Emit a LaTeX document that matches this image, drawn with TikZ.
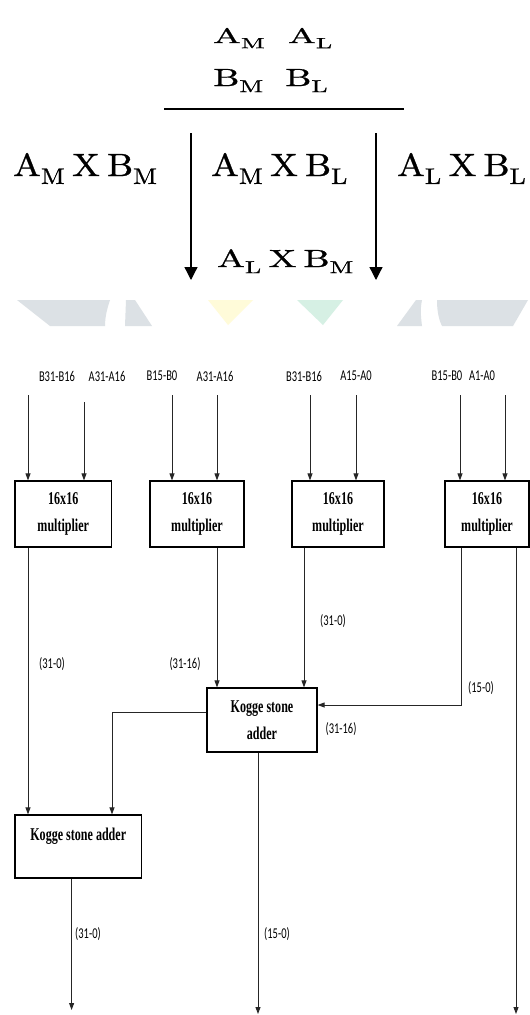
\documentclass[tikz,border=0pt]{standalone}
\usepackage{fontspec}
\usetikzlibrary{arrows.meta}
\newfontfamily\labf{Carlito}
\newfontfamily\boxf{Liberation Serif}
\newfontfamily\heavy[FakeBold=0.8]{lmroman10-regular.otf}
\newcommand\nx[1]{\scalebox{0.7}[1]{#1}}
\newcommand\bx[1]{\scalebox{0.67}[1]{#1}}
\newcommand\sbs[1]{\textsubscript{#1}}
\newcommand\gp{\hspace{7pt}}
\definecolor{wmgray}{HTML}{DCE1E5}
\definecolor{wmyel}{HTML}{FFFBD9}
\definecolor{wmgrn}{HTML}{D6F0E4}
\begin{document}
\begin{tikzpicture}[x=1pt,y=-1pt,
  lbl/.style={font=\labf\fontsize{15}{18}\selectfont, inner sep=0},
  mul/.style={draw=black, line width=1.2pt, font=\boxf\bfseries\fontsize{18}{27}\selectfont, align=center, inner sep=0},
  wire/.style={line width=0.9pt, draw=black!85},
  arr/.style={wire, -{Triangle[width=5pt,length=7pt]}},
  bigarr/.style={line width=1.3pt, -{Triangle[width=13pt,length=13pt]}},
  mth/.style={inner sep=0, anchor=base west, font=\heavy\fontsize{37}{42}\selectfont}]
\useasboundingbox (0,0) rectangle (530,1015);
\fill[white] (0,0) rectangle (530,1015);
% watermark shapes
\fill[wmgray] (17,300) -- (110,300) .. controls (107,309) and (105,317) .. (105,326) -- (50,326) -- cycle;
\fill[wmgray] (126,300) -- (135,300) -- (152,326) -- (125,326) -- cycle;
\fill[wmyel] (208,300) -- (253,300) -- (228,325) -- cycle;
\fill[wmgrn] (297,300) -- (343,300) -- (323,325) -- cycle;
\fill[wmgray] (416,300) -- (422,300) .. controls (420,309) and (421,318) .. (422,326) -- (397,326) -- cycle;
\fill[wmgray] (437,300) -- (528,300) -- (513,326) -- (442,326) .. controls (438,318) and (437,308) .. cycle;
% top math part
\node[mth] (am) at (213,43) {\scalebox{1}[0.57]{A\sbs{M}}};
\node[mth] (al) at (288,43) {\scalebox{1}[0.57]{A\sbs{L}}};
\node[mth] (bm) at (213,86) {\scalebox{1}[0.67]{B\sbs{M}}};
\node[mth] (bl) at (285,86) {\scalebox{1}[0.67]{B\sbs{L}}};
\coordinate (r1) at (164,109);
\coordinate (r2) at (404,109);
\draw[line width=1.5pt] (r1) -- (r2);
\coordinate (a1) at (191,133);
\coordinate (a2) at (191,280);
\coordinate (a3) at (376,133);
\coordinate (a4) at (376,280);
\draw[bigarr] (a1) -- (a2);
\draw[bigarr] (a3) -- (a4);
\node[mth] (p1) at (13,176) {\scalebox{1}[0.87]{A\sbs{M}\gp X\gp B\sbs{M}}};
\node[mth] (p2) at (211,176) {\scalebox{1}[0.87]{A\sbs{M}\gp X\gp B\sbs{L}}};
\node[mth] (p3) at (397,176) {\scalebox{1}[0.87]{A\sbs{L}\gp X\gp B\sbs{L}}};
\node[mth] (p4) at (217,267) {\scalebox{1}[0.67]{A\sbs{L}\gp X\gp B\sbs{M}}};
% input labels
\node[lbl] (t1) at (57,376) {\nx{B31-B16}};
\node[lbl] (t2) at (107,376) {\nx{A31-A16}};
\node[lbl] (t3) at (162,376) {\nx{B15-B0}};
\node[lbl] (t4) at (215,376) {\nx{A31-A16}};
\node[lbl] (t5) at (304,376) {\nx{B31-B16}};
\node[lbl] (t6) at (356,376) {\nx{A15-A0}};
\node[lbl] (t7) at (447,376) {\nx{B15-B0}};
\node[lbl] (t8) at (482,376) {\nx{A1-A0}};
% boxes
\node[mul, minimum width=96.5pt, minimum height=66pt] (m1) at (63.25,514) {\bx{16x16}\\\bx{multiplier}};
\node[mul, minimum width=94pt, minimum height=66pt] (m2) at (197,514) {\bx{16x16}\\\bx{multiplier}};
\node[mul, minimum width=92pt, minimum height=66pt] (m3) at (338,514) {\bx{16x16}\\\bx{multiplier}};
\node[mul, minimum width=84pt, minimum height=66pt] (m4) at (487,514) {\bx{16x16}\\\bx{multiplier}};
\node[mul, minimum width=110pt, minimum height=64pt] (k1) at (262,720) {\bx{Kogge stone}\\\bx{adder}};
\node[mul, minimum width=126.5pt, minimum height=63pt] (k2) at (78.25,846.5) {\bx{Kogge stone adder}\\[-10pt]\strut};
% inputs
\coordinate (i1) at (28,395);
\coordinate (i2) at (84,402);
\coordinate (i3) at (172,395);
\coordinate (i4) at (217,395);
\coordinate (i5) at (310,395);
\coordinate (i6) at (356,395);
\coordinate (i7) at (460,395);
\coordinate (i8) at (505,395);
\draw[arr] (i1) -- (i1 |- m1.north);
\draw[arr] (i2) -- (i2 |- m1.north);
\draw[arr] (i3) -- (i3 |- m2.north);
\draw[arr] (i4) -- (i4 |- m2.north);
\draw[arr] (i5) -- (i5 |- m3.north);
\draw[arr] (i6) -- (i6 |- m3.north);
\draw[arr] (i7) -- (i7 |- m4.north);
\draw[arr] (i8) -- (i8 |- m4.north);
% internal connections
\coordinate (c1) at (28,0);
\coordinate (o2) at (217,0);
\coordinate (o3) at (304,0);
\coordinate (j4) at (461,705);
\coordinate (ka) at (112,712);
\coordinate (e1) at (71.6,1010);
\coordinate (e2) at (258,1014);
\coordinate (e5) at (516,1014);
\draw[arr] (m1.south -| c1) -- (k2.north -| c1);
\draw[arr] (m2.south -| o2) -- (k1.north -| o2);
\draw[arr] (m3.south -| o3) -- (k1.north -| o3);
\draw[arr] (m4.south -| j4) -- (j4) -- (j4 -| k1.east);
\draw[arr] (m4.south -| e5) -- (e5);
\draw[arr] (ka -| k1.west) -- (ka) -- (ka |- k2.north);
\draw[arr] (k1.south -| e2) -- (e2);
\draw[arr] (k2.south -| e1) -- (e1);
% bus labels
\node[lbl] (l1) at (52,664) {\nx{(31-0)}};
\node[lbl] (l2) at (185,664) {\nx{(31-16)}};
\node[lbl] (l3) at (333,621) {\nx{(31-0)}};
\node[lbl] (l4) at (481,688) {\nx{(15-0)}};
\node[lbl] (l5) at (341,729) {\nx{(31-16)}};
\node[lbl] (l6) at (88,934) {\nx{(31-0)}};
\node[lbl] (l7) at (277,934) {\nx{(15-0)}};
\end{tikzpicture}
\end{document}
